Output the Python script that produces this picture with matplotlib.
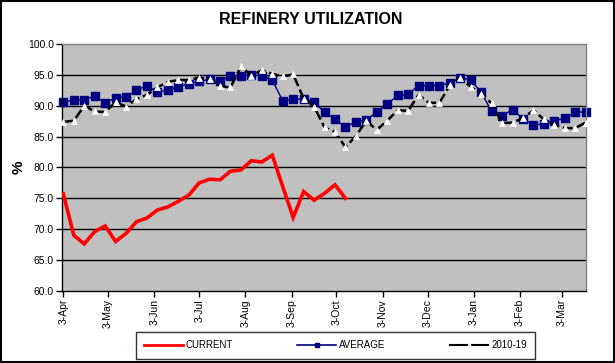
import matplotlib
matplotlib.use("Agg")
import matplotlib.pyplot as plt
from matplotlib.lines import Line2D
from matplotlib.patches import Rectangle
import numpy as np

plt.rcParams['font.family'] = ['Liberation Sans', 'DejaVu Sans']

# ---- data (weekly, starting 3-Apr) ----
week_days = [7 * i for i in range(51)]
current = [75.7, 69.0, 67.6, 69.6, 70.5, 68.0, 69.3, 71.2, 71.8, 73.1, 73.6, 74.5,
           75.5, 77.5, 78.1, 78.0, 79.4, 79.6, 81.1, 80.9, 82.0, 76.9, 71.9, 76.1,
           74.7, 75.8, 77.2, 75.0]
average = [90.7, 90.9, 91.0, 91.6, 90.5, 91.3, 91.5, 92.5, 93.3, 92.2, 92.6, 93.1,
           93.6, 94.0, 94.3, 94.0, 94.9, 94.9, 95.0, 94.9, 94.2, 90.8, 91.1, 91.1,
           90.6, 89.0, 87.8, 86.6, 87.4, 87.7, 89.0, 90.3, 91.7, 91.9, 93.3, 93.3,
           93.3, 93.7, 94.6, 94.2, 92.2, 89.1, 88.4, 89.4, 87.9, 86.9, 87.1, 87.6,
           88.0, 89.0, 89.0]
hist_2010_19 = [87.4, 87.6, 90.0, 89.1, 89.0, 90.6, 89.9, 91.1, 91.8, 93.0, 93.9, 94.2,
                94.2, 94.6, 94.3, 93.2, 93.0, 96.4, 94.9, 95.8, 95.2, 94.8, 95.1, 91.2,
                89.9, 86.5, 85.8, 83.3, 85.1, 87.6, 86.1, 87.6, 89.3, 89.2, 91.8, 90.5,
                90.5, 93.4, 94.5, 93.1, 92.0, 90.4, 87.2, 87.3, 88.0, 89.3, 87.8, 86.9,
                86.4, 86.4, 87.3]
month_tick_days = [0, 30, 61, 91, 122, 153, 183, 214, 244, 275, 306, 334]
month_tick_labels = ['3-Apr', '3-May', '3-Jun', '3-Jul', '3-Aug', '3-Sep', '3-Oct',
                     '3-Nov', '3-Dec', '3-Jan', '3-Feb', '3-Mar']
y_ticks = [60, 65, 70, 75, 80, 85, 90, 95, 100]

fig = plt.figure(figsize=(6.15, 3.63), dpi=100)
ax = fig.add_axes([62.3 / 615, 1 - 290.7 / 363, (586 - 62.3) / 615, (290.7 - 44.3) / 363])
ax.set_facecolor('#C0C0C0')

for y in y_ticks[1:-1]:
    ax.axhline(y, color='black', lw=1.0, zorder=1)

ax.plot(week_days[:len(current)], current, color='#FF0000', lw=2.6, zorder=4,
        solid_joinstyle='miter')
ax.plot(week_days, average, color='#000080', lw=1.0, marker='s', markersize=5.5,
        markerfacecolor='#000080', markeredgecolor='#000080', zorder=2, clip_on=False)
ax.plot(week_days, hist_2010_19, color='black', lw=1.8, dashes=(4, 1.5), marker='^',
        markersize=4.5, markerfacecolor='white', markeredgecolor='white',
        markeredgewidth=0.5, zorder=3, clip_on=False)

ax.set_xlim(-0.7, 350.2)
ax.set_ylim(60, 100)
ax.set_yticks(y_ticks)
ax.set_yticklabels([f'{v:.1f}' for v in y_ticks], fontsize=7.5)
ax.set_xticks(month_tick_days)
ax.set_xticklabels(month_tick_labels, rotation=90, fontsize=7.5)
ax.tick_params(axis='both', direction='out', length=4, width=1, colors='black', pad=2)

for s in ['left', 'bottom']:
    ax.spines[s].set_color('black')
    ax.spines[s].set_linewidth(1.0)
for s in ['top', 'right']:
    ax.spines[s].set_color('#808080')
    ax.spines[s].set_linewidth(1.0)

ax.set_ylabel('%', fontsize=11, fontweight='bold', labelpad=2)

fig.text(0.505, 1 - 20 / 363, 'REFINERY UTILIZATION', ha='center', va='center',
         fontsize=11.5, fontweight='bold')

handles = [
    Line2D([], [], color='#FF0000', lw=2),
    Line2D([], [], color='#000080', lw=1.2, marker='s', markersize=3),
    Line2D([], [], color='black', lw=1.5, marker='^', markersize=3,
           markerfacecolor='white', markeredgecolor='white'),
]
leg = fig.legend(handles, ['CURRENT', 'AVERAGE', '2010-19'], loc='center',
                 bbox_to_anchor=(335.5 / 615, 1 - 345.5 / 363), ncol=3, fontsize=7,
                 frameon=True, fancybox=False, edgecolor='black', handlelength=4,
                 columnspacing=6.6, borderpad=0.85, handletextpad=0.3, borderaxespad=0)
leg.get_frame().set_linewidth(1.0)

fig.patches.append(Rectangle((0.001, 0.002), 0.997, 0.996, transform=fig.transFigure,
                             fill=False, edgecolor='black', lw=1.5))

fig.savefig('out.png', dpi=100)
